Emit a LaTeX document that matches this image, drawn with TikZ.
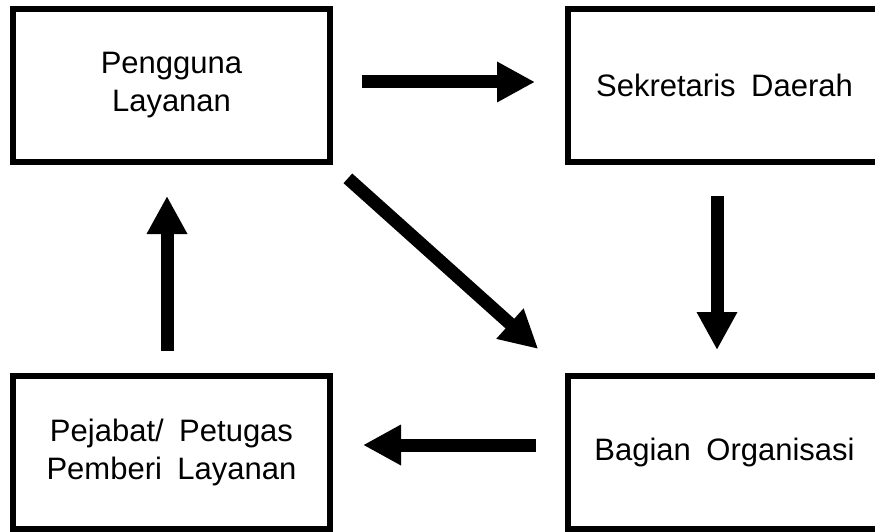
\documentclass[tikz,border=0pt]{standalone}
\usepackage{fontspec}
\setmainfont{Liberation Sans}[WordSpace=1.8]
\usetikzlibrary{arrows.meta,positioning}
\tikzset{%
	box/.style      = {draw, rectangle, line width=6pt, minimum height=153pt, text centered, align=center, font=\fontsize{31}{38}\selectfont},
	leftbox/.style  = {box, minimum width=317pt},
	rightbox/.style = {box, minimum width=313pt},
	bigarrow/.style = {line width=13pt, -{Triangle[length=38pt,width=38pt]}},
}

\begin{document}
\begin{tikzpicture}[x=1pt,y=-1pt,node distance=208pt and 232pt]
	\clip (0,0) rectangle (875,532);
	\node [leftbox] (user) at (171.5,85.5) {Pengguna\\Layanan};
	\node [rightbox] (sekda) [right=of user] {Sekretaris Daerah};
	\node [rightbox] (org) [below=of sekda] {Bagian Organisasi};
	\node [leftbox] (pemberi) [below=of user] {Pejabat/ Petugas\\Pemberi Layanan};
	
	\draw[bigarrow,shorten <=29pt,shorten >=30pt] ([yshift=3.5pt]user.east) -- ([yshift=3.5pt]sekda.west);
	\draw[bigarrow,shorten <=31pt,shorten >=23pt] ([xshift=-7.5pt]sekda.south) -- ([xshift=-7.5pt]org.north);
	\draw[bigarrow,shorten <=29pt,shorten >=30pt] ([yshift=7.5pt]org.west) -- ([yshift=7.5pt]pemberi.east);
	\draw[bigarrow,shorten <=22pt,shorten >=31pt] ([xshift=-4.5pt]pemberi.north) -- ([xshift=-4.5pt]user.south);
	\draw[bigarrow,shorten <=20pt,shorten >=36pt] (user.south east) -- (org.north west);
\end{tikzpicture}
\end{document}
